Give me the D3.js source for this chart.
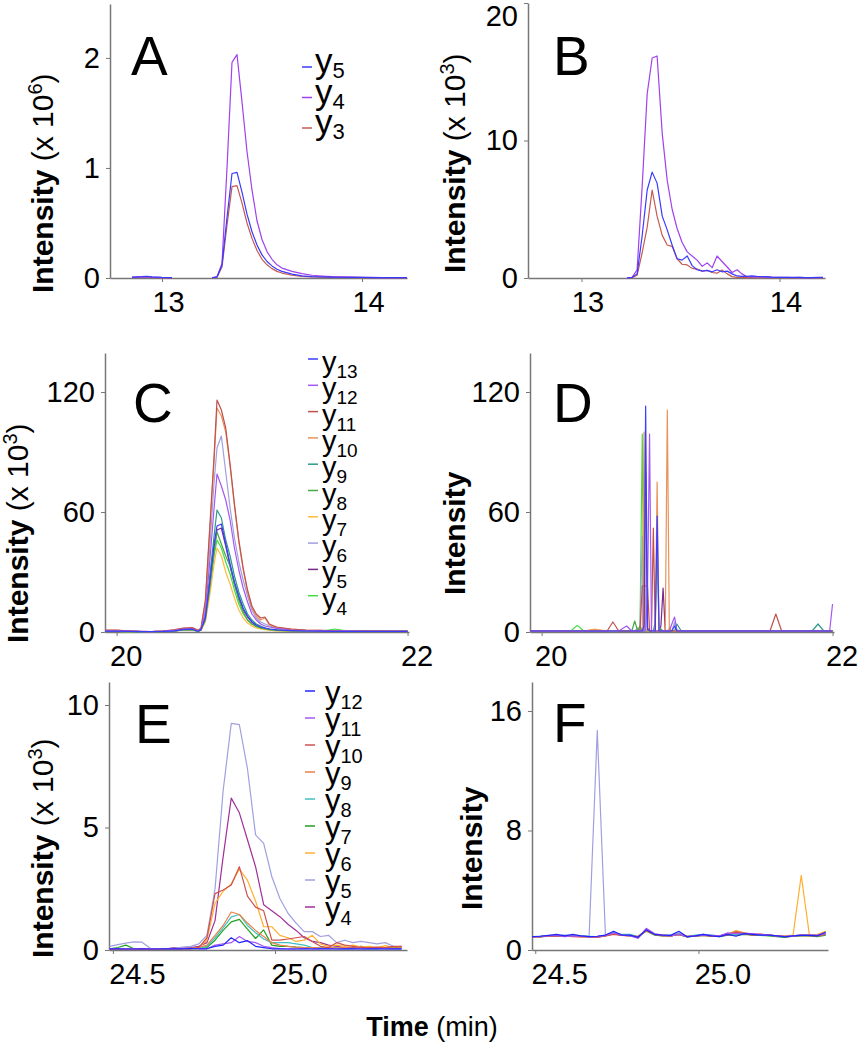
<!DOCTYPE html>
<html><head><meta charset="utf-8">
<script src="https://cdn.jsdelivr.net/npm/d3@7"></script>
<style>
body{margin:0;background:#fff}
svg{display:block}
text{font-family:"Liberation Sans",Arial,Helvetica,sans-serif;fill:#000}
</style>
</head><body>
<svg id="chart" width="860" height="1050"></svg>
<script>
// ---------- Panel A (time in min, intensity x 10^6) ----------
const tA = [12.85,12.9,12.925,12.95,13.0,13.05,13.1,13.15,13.2,13.25,13.275,13.3,13.325,13.35,13.375,13.4,13.425,13.45,13.475,13.5,13.525,13.55,13.575,13.6,13.65,13.7,13.75,13.8,13.85,13.9,13.95,14.0,14.05,14.1,14.15,14.2,14.225];
const aY5 = [0.008,0.012,0.015,0.01,0.005,0.004,null,null,null,0.002,0.01,0.12,0.55,0.95,0.96,0.78,0.58,0.42,0.3,0.21,0.15,0.11,0.08,0.06,0.035,0.02,0.013,0.01,0.008,0.007,0.006,0.005,0.004,0.004,0.003,0.003,0.003];
const aY4 = [0.005,0.01,0.012,0.008,0.004,0.003,null,null,null,0.002,0.01,0.13,1.0,1.96,2.03,1.6,1.15,0.8,0.52,0.35,0.24,0.17,0.12,0.09,0.06,0.04,0.025,0.018,0.012,0.01,0.008,0.006,0.005,0.004,0.004,0.003,0.003];
const aY3 = [0.004,0.008,0.01,0.006,0.003,0.002,null,null,null,0.001,0.008,0.1,0.48,0.83,0.84,0.68,0.5,0.36,0.25,0.17,0.12,0.085,0.06,0.045,0.025,0.015,0.01,0.008,0.006,0.005,0.005,0.004,0.003,0.003,0.003,0.002,0.002];

// ---------- Panel B (x 10^3) ----------
const tB = [13.23,13.256,13.281,13.306,13.332,13.357,13.382,13.408,13.433,13.458,13.483,13.508,13.534,13.559,13.584,13.61,13.635,13.66,13.685,13.71,13.736,13.761,13.786,13.81,13.835,13.86,13.885,13.91,13.935,13.96,13.985,14.01,14.04,14.07,14.1,14.13,14.16,14.19,14.22];
const bY5 = [0,0.05,0.3,3.0,6.4,7.7,6.9,4.5,3.5,2.4,1.4,1.3,1.6,0.9,0.6,0.5,0.55,0.45,0.6,0.45,0.5,0.3,0.15,0.12,0.12,0.15,0.12,0.1,0.08,0.06,0.05,0.05,0.04,0.05,0.04,0.03,0.03,0.04,0.05];
const bY4 = [0,0.05,0.6,6.5,13.4,16.0,16.15,10.5,7.1,5.0,3.6,2.6,1.9,1.6,1.3,0.85,1.1,0.75,1.6,1.2,0.8,0.4,0.6,0.3,0.1,0.08,0.1,0.08,0.1,0.06,0.05,0.05,0.04,0.03,0.04,0.03,0.03,0.02,0.02];
const bY3 = [0,0.03,0.2,1.8,3.7,6.4,4.5,3.1,2.4,2.3,1.4,1.0,0.95,0.7,0.65,0.5,0.55,0.4,0.35,0.58,0.3,0.1,0.05,0.04,0.03,0.03,0.02,0.02,0.02,0.02,0.02,0.02,0.02,0.02,0.02,0.02,0.02,0.02,0.02];

// ---------- Panel C (x 10^3) ----------
const tC = [19.92,20.0,20.08,20.16,20.24,20.32,20.40,20.46,20.52,20.56,20.58,20.61,20.64,20.67,20.69,20.72,20.75,20.78,20.81,20.84,20.87,20.90,20.93,20.96,20.99,21.02,21.05,21.10,21.20,21.30,21.40,21.50,21.60,21.70,21.80,21.90,22.0];
const cY13 = [0.4,0.4,0.3,0.2,0.2,0.3,0.6,1.3,1.4,0.4,1.2,7,25,44,53,54,44,34,25,18,12,8,5,3.5,2.5,2,1.5,1,0.7,0.5,0.4,0.3,0.3,0.3,0.3,0.3,0.3];
const cY12 = [0.5,0.5,0.4,0.3,0.2,0.4,0.8,1.4,1.5,0.5,1.4,10,35,62,79,73,66,56,42,31,22,15,9,6,4,3,2.5,1.8,1,0.7,0.5,0.4,0.4,0.3,0.3,0.3,0.3];
const cY11 = [1,1,0.6,0.3,0.2,0.5,1.2,2,2.2,0.8,2,16,52,88,116,111,102,84,64,46,32,21,13,9,7,7.5,4,2.5,1.5,1,0.8,0.6,0.5,0.5,0.4,0.4,0.5];
const cY10 = [0.8,0.8,0.5,0.3,0.2,0.5,1,1.8,2,0.7,2,15,50,86,112,108,100,83,63,45,31,20,12,8,6,7,3.5,2.2,1.4,1,0.8,0.6,0.5,0.5,0.4,0.4,0.4];
const cY9 = [0.4,0.4,0.3,0.2,0.2,0.3,0.6,1.2,1.3,0.4,1.2,8,28,48,61,57,46,38,28,20,14,9,6,4,3,2,1.5,1.2,0.8,0.6,0.5,0.4,0.3,0.6,0.3,0.3,0.3];
const cY8 = [0.3,0.3,0.2,0.2,0.2,0.3,0.5,1,1.1,0.3,1,6,22,40,50,44,38,33,24,16,10,6,4,3,2,1.5,1.2,0.8,0.5,0.4,0.3,0.3,0.3,0.3,0.3,0.3,0.3];
const cY7 = [0.3,0.3,0.2,0.2,0.2,0.3,0.5,0.9,1,0.3,0.9,5,18,34,42,38,30,24,17,11,7,4.5,3,2,1.5,1.2,0.9,0.6,0.5,0.4,0.3,0.3,0.3,0.3,0.3,0.3,0.3];
const cY6 = [0.5,0.5,0.4,0.3,0.2,0.4,0.8,1.5,1.6,0.5,1.5,12,42,75,92,98,80,62,47,35,26,18,11,7,5,4,3,2,1.2,0.8,0.6,0.5,0.4,0.4,0.3,0.3,0.3];
const cY5 = [0.3,0.3,0.3,0.2,0.2,0.3,0.5,1.1,1.2,0.3,1,7,24,42,51,52,43,33,24,17,11,7.5,5,3,2.2,1.8,1.3,0.9,0.6,0.4,0.3,0.3,0.3,0.3,0.3,0.3,0.3];
const cY4 = [0.3,0.3,0.2,0.2,0.2,0.3,0.5,1,1,0.3,1,6,21,38,46,42,35,29,21,14,9,6,4,2.5,1.8,1.4,1,0.7,0.5,0.4,0.3,1.5,0.3,0.3,0.6,0.3,0.3];

// ---------- Panel D (raw intensity) ----------
const tD = [19.92,20.2,20.245,20.29,20.364,20.45,20.49,20.53,20.584,20.62,20.64,20.66,20.676,20.692,20.704,20.715,20.728,20.742,20.755,20.768,20.781,20.794,20.807,20.82,20.835,20.85,20.864,20.878,20.895,20.914,20.93,20.96,21.2,21.57,21.61,21.65,21.86,21.9,21.94,21.98,22.0];
const dY13 = [0.5,0.5,0.5,0.5,0.5,0.5,0.5,0.5,0.5,0.5, 0.5,0.5,0.5,0.5,3,113,2,0.5,0.5,0.5, 0.5,58,0.5,0.5,0.5,0.5,0.5,0.5,0.5,3, 0.5,0.5,0.5,0.5,0.5,0.5,0.5,0.5,0.5,0.5, 0.5];
const dY12 = [0.5,0.5,0.5,0.5,0.5,0.5,0.5,0.5,3,0.5, 0.5,0.5,0.5,0.5,0.5,0.5,20,99,1,0.5, 0.5,0.5,0.5,0.5,0.5,0.5,0.5,0.5,4,7.5, 1,0.5,0.5,0.5,0.5,0.5,0.5,0.5,0.5,0.5, 14];
const dY11 = [0.5,0.5,0.5,0.5,0.5,0.5,5,0.5,0.5,0.5, 0.5,0.5,0.5,23,23,23,23,0.5,0.5,52, 0.5,0.5,0.5,0.5,0.5,0.5,0.5,0.5,0.5,0.5, 0.5,0.5,0.5,0.5,9,0.5,0.5,0.5,0.5,0.5, 0.5];
const dY10 = [0.5,0.5,0.5,0.5,1.2,0.5,0.5,0.5,0.5,0.5, 0.5,0.5,0.5,0.5,100,0.5,0.5,0.5,0.5,0.5, 0.5,75,0.5,0.5,0.5,0.5,111,0.5,0.5,0.5, 0.5,0.5,0.5,0.5,0.5,0.5,0.5,0.5,0.5,0.5, 0.5];
const dY9 = [0.5,0.5,0.5,0.5,0.5,0.5,0.5,0.5,0.5,0.5, 0.5,0.5,0.5,0.5,0.5,0.5,0.5,0.5,0.5,0.5, 5,45,1,0.5,0.5,0.5,0.5,0.5,0.5,0.5, 4,0.5,0.5,0.5,0.5,0.5,0.5,4,0.5,0.5, 0.5];
const dY8 = [0.5,0.5,0.5,0.5,0.5,0.5,0.5,0.5,0.5,0.5, 5.5,0.5,3,0.5,0.5,0.5,0.5,0.5,0.5,0.5, 0.5,0.5,0.5,1.5,0.5,0.5,0.5,0.5,0.5,0.5, 0.5,0.5,0.5,0.5,0.5,0.5,0.5,0.5,0.5,0.5, 0.5];
const dY7 = [0.5,0.5,0.5,0.5,1.5,0.5,0.5,0.5,0.5,0.5, 0.5,0.5,0.5,0.5,0.5,0.5,0.5,0.5,0.5,0.5, 0.5,0.5,0.5,0.5,0.5,0.5,0.5,2,0.5,0.5, 0.5,0.5,0.5,0.5,0.5,0.5,0.5,0.5,0.5,0.5, 0.5];
const dY6 = [0.5,0.5,0.5,0.5,0.5,0.5,0.5,0.5,0.5,0.5, 0.5,2,0.5,48,0.5,0.5,0.5,0.5,0.5,0.5, 0.5,0.5,0.5,0.5,0.5,0.5,0.5,0.5,0.5,5, 0.5,0.5,0.5,0.5,0.5,0.5,0.5,0.5,0.5,0.5, 0.5];
const dY5 = [0.5,0.5,0.5,0.5,0.5,0.5,0.5,0.5,0.5,0.5, 0.5,0.5,0.5,0.5,0.5,80,0.5,0.5,0.5,0.5, 0.5,0.5,0.5,3,22,0.5,0.5,0.5,0.5,0.5, 0.5,0.5,0.5,0.5,0.5,0.5,0.5,0.5,0.5,0.5, 0.5];
const dY4 = [0.5,0.5,3.3,0.5,0.5,0.5,0.5,0.5,0.5,0.5, 0.5,0.5,0.5,99,0.5,0.5,0.5,0.5,0.5,0.5, 0.5,0.5,0.5,0.5,0.5,0.5,0.5,0.5,0.5,0.5, 0.5,0.5,0.5,0.5,0.5,0.5,0.5,0.5,0.5,0.5, 0.5];

// ---------- Panel E (x 10^3) ----------
const tE = [24.49,24.515,24.54,24.565,24.59,24.615,24.64,24.665,24.69,24.715,24.74,24.765,24.79,24.815,24.84,24.865,24.89,24.915,24.94,24.965,24.99,25.015,25.04,25.065,25.09,25.115,25.14,25.165,25.19,25.215,25.24,25.265,25.29,25.315,25.34,25.365,25.39];
const eY12 = [0.05,0.05,0.04,0.04,0.05,0.04,0.04,0.05,0.05,0.05, 0.06,0.05,0.05,0.15,0.2,0.5,0.3,0.38,0.15,0.1, 0.05,0.05,0.04,0.04,0.05,0.04,0.05,0.05,0.04,0.05, 0.05,0.04,0.05,0.05,0.04,0.05,0.05];
const eY11 = [0.05,0.06,0.05,0.05,0.06,0.05,0.05,0.06,0.05,0.06, 0.06,0.06,0.05,0.2,0.25,0.3,0.55,0.35,0.3,0.15, 0.1,0.06,0.05,0.05,0.06,0.05,0.05,0.06,0.05,0.05, 0.06,0.05,0.05,0.06,0.05,0.05,0.05];
const eY10 = [0.03,0.03,0.03,0.03,0.02,0.02,0.03,0.04,0.05,0.05, 0.05,0.1,0.5,2.3,2.45,2.65,3.4,2.2,1.75,1.6, 0.4,0.4,0.45,0.5,0.55,0.35,0.15,0.1,0.3,0.2, 0.15,0.1,0.1,0.12,0.1,0.15,0.15];
const eY9 = [0.03,0.03,0.04,0.03,0.03,0.03,0.03,0.04,0.05,0.05, 0.06,0.1,0.2,0.6,1.0,1.55,1.45,1.1,0.8,0.55, 0.3,0.2,0.15,0.12,0.1,0.1,0.08,0.1,0.08,0.1, 0.08,0.1,0.08,0.08,0.1,0.08,0.1];
const eY8 = [0.04,0.04,0.05,0.04,0.04,0.04,0.04,0.05,0.05,0.05, 0.06,0.08,0.15,0.5,0.9,1.35,1.45,1.0,0.7,0.45, 0.3,0.3,0.3,0.25,0.2,0.1,0.08,0.08,0.06,0.06, 0.05,0.06,0.05,0.05,0.06,0.05,0.05];
const eY7 = [0.05,0.1,0.2,0.05,0.04,0.04,0.04,0.04,0.05,0.05, 0.05,0.06,0.1,0.4,0.8,1.15,1.25,0.85,0.47,0.82, 0.2,0.15,0.15,0.12,0.1,0.1,0.08,0.08,0.08,0.06, 0.06,0.08,0.06,0.06,0.1,0.08,0.1];
const eY6 = [0.04,0.04,0.05,0.04,0.04,0.04,0.04,0.05,0.05,0.06, 0.06,0.1,0.4,1.9,2.4,2.7,3.3,2.85,2.0,0.95, 0.95,0.6,0.5,0.35,0.4,0.6,0.25,0.15,0.2,0.15, 0.2,0.12,0.15,0.1,0.18,0.1,0.1];
const eY5 = [0.15,0.22,0.28,0.33,0.32,0.07,0.05,0.05,0.08,0.12, 0.15,0.25,0.6,2.5,6.5,9.25,9.2,7.4,4.7,4.35, 3.0,2.1,1.5,1.1,0.75,0.75,0.55,0.6,0.3,0.4, 0.3,0.35,0.3,0.25,0.3,0.15,0.1];
const eY4 = [0.02,0.03,0.04,0.03,0.03,0.03,0.04,0.05,0.1,0.08, 0.1,0.15,0.3,1.2,3.8,6.2,5.6,4.5,3.4,1.85, 1.6,1.36,1.05,0.8,0.5,0.35,0.3,0.2,0.15,0.1, 0.1,0.15,0.1,0.1,0.1,0.12,0.15];

// ---------- Panel F (raw intensity) ----------
const tF = [24.49,24.515,24.54,24.565,24.59,24.615,24.64,24.665,24.69,24.715,24.74,24.765,24.79,24.815,24.84,24.865,24.89,24.915,24.94,24.965,24.99,25.015,25.04,25.065,25.09,25.115,25.14,25.165,25.19,25.215,25.24,25.265,25.29,25.315,25.34,25.365,25.39];
const fY12 = [0.9,0.92,0.98,1.05,0.95,1.05,0.95,0.9,0.92,1.0, 1.25,1.0,1.0,0.85,1.35,1.05,1.0,0.98,1.25,0.88, 0.95,1.05,0.95,0.9,1.05,0.92,1.1,1.05,1.0,1.0, 0.95,0.88,0.95,0.98,0.98,0.95,1.2];
const fY11 = [0.88,0.9,0.95,0.98,0.9,0.95,0.92,0.88,0.9,0.98, 1.15,1.0,0.95,0.8,1.45,1.1,1.0,0.95,1.05,0.9, 0.95,1.0,0.98,0.95,1.15,1.1,1.12,1.1,1.05,1.0, 0.95,0.92,0.95,1.0,1.0,1.0,1.1];
const fY10 = [0.88,0.9,0.92,0.95,0.92,0.9,0.88,0.88,0.85,0.95, 1.05,0.98,0.95,0.9,1.3,1.05,0.95,0.95,1.05,0.9, 0.92,0.98,0.92,0.95,1.0,1.2,1.1,1.0,1.05,1.0, 0.95,0.9,0.92,0.98,0.95,0.95,1.05];
const fY9 = [0.9,0.9,0.92,0.95,0.95,0.92,0.9,0.9,0.88,0.95, 1.1,1.0,0.95,0.9,1.3,1.05,1.0,0.95,1.05,0.92, 0.95,1.0,0.95,0.95,1.05,1.25,1.15,1.05,1.05,1.0, 0.95,0.92,0.95,1.0,1.0,0.98,1.1];
const fY8 = [0.9,0.92,0.95,0.95,0.98,0.95,0.95,0.92,0.9,1.0, 1.15,1.05,1.05,0.9,1.3,1.05,1.0,1.0,1.1,0.92, 1.0,1.05,1.0,0.95,1.05,1.05,1.1,1.05,1.0,1.0, 0.95,0.9,0.95,1.0,1.0,0.95,1.05];
const fY7 = [0.88,0.88,0.92,0.92,0.95,0.92,0.92,0.9,0.88,0.95, 1.1,0.98,1.0,0.88,1.25,1.0,0.95,0.95,1.05,0.88, 0.92,0.98,0.92,0.9,1.0,1.0,1.05,1.0,0.98,0.95, 0.9,0.85,0.92,0.95,0.95,0.9,1.0];
const fY6 = [0.9,0.9,0.95,0.95,0.95,0.92,0.9,0.9,0.9,0.95, 1.1,1.0,0.95,0.9,1.3,1.05,1.0,0.95,1.05,0.9, 0.95,1.0,0.95,0.95,1.05,1.3,1.15,1.05,1.05,1.0, 0.95,0.95,1.0,5.0,1.0,1.05,1.25];
const fY5 = [0.9,0.92,0.95,0.98,1.0,0.95,0.95,0.9,14.7,1.0, 1.2,1.0,1.0,0.85,1.35,1.05,1.0,0.98,1.15,0.9, 0.95,1.05,0.95,0.95,1.05,1.05,1.1,1.05,1.05,1.0, 0.95,0.9,0.95,1.0,1.0,0.98,1.1];
const fY4 = [0.9,0.9,0.95,0.95,0.95,0.92,0.92,0.9,0.9,0.98, 1.15,1.0,1.0,0.8,1.4,1.05,1.0,0.95,1.05,0.9, 0.95,1.0,0.95,0.95,1.1,1.1,1.1,1.05,1.0,1.0, 0.95,0.9,0.95,1.0,1.0,1.0,1.15];

// ---------- Tick labels ----------
const ticksXAB = [13, 14];
const ticksXCD = [20, 22];
const ticksXEF = [24.5, 25.0];
const ticksYA = [0, 1, 2];
const ticksYB = [0, 10, 20];
const ticksYCD = [0, 60, 120];
const ticksYE = [0, 5, 10];
const ticksYF = [0, 8, 16];

// ---------- Series names / colours ----------
const colAB = {y5:"#3a3aff", y4:"#a040f0", y3:"#c45a50"};
const colCD = {y13:"#3c3cff", y12:"#a458f2", y11:"#c0504d", y10:"#e8935a", y9:"#2e9a8a", y8:"#4aa84a", y7:"#ffbb40", y6:"#a0a0e0", y5:"#7a2a8a", y4:"#44dd44"};
const colEF = {y12:"#2424ff", y11:"#a458f2", y10:"#d05050", y9:"#e8804a", y8:"#40c0c0", y7:"#22a022", y6:"#ffb030", y5:"#a0a0e0", y4:"#a0309a"};

const mk = (names, vals, cols) => names.map((n,i)=>({name:n, values:vals[i], color:cols[n]}));

const panels = [
  {letter:"A", t:tA, series: mk(["y5","y4","y3"],[aY5,aY4,aY3],colAB),
   xd:[12.74,14.225], xr:[110,407], yd:[0,2.49], yr:[278,4], xt:ticksXAB, yt:ticksYA, xf:d3.format("d"), xdx:6,
   lab:{x:53,y:293,exp:"6"}, let:{x:131,y:75},
   leg:{x1:302,x2:312,tx:315,y0:67,dy:30.5,base:6,fs:35,sfs:22,sdy:5}},
  {letter:"B", t:tB, series: mk(["y5","y4","y3"],[bY5,bY4,bY3],colAB),
   xd:[12.73,14.23], xr:[528,825], yd:[0,20], yr:[278,3], xt:ticksXAB, yt:ticksYB, xf:d3.format("d"), xdx:6, topShift:13,
   lab:{x:465,y:273,exp:"3"}, let:{x:553,y:75}},
  {letter:"C", t:tC, series: mk(["y13","y12","y11","y10","y9","y8","y7","y6","y5","y4"],[cY13,cY12,cY11,cY10,cY9,cY8,cY7,cY6,cY5,cY4],colCD),
   xd:[19.92,22.01], xr:[105,409], yd:[0,139.5], yr:[632,353], xt:ticksXCD, yt:ticksYCD, xf:d3.format("d"), xdx:9,
   lab:{x:28,y:643,exp:"3"}, let:{x:133,y:422},
   leg:{x1:308,x2:318,tx:322,y0:359,dy:26.3,base:13,fs:29,sfs:19,sdy:6}},
  {letter:"D", t:tD, series: mk(["y13","y12","y11","y10","y9","y8","y7","y6","y5","y4"],[dY13,dY12,dY11,dY10,dY9,dY8,dY7,dY6,dY5,dY4],colCD),
   xd:[19.92,22.01], xr:[530,834], yd:[0,139.5], yr:[632,353], xt:ticksXCD, yt:ticksYCD, xf:d3.format("d"), xdx:9,
   lab:{x:465,y:595,exp:null}, let:{x:553,y:422}},
  {letter:"E", t:tE, series: mk(["y12","y11","y10","y9","y8","y7","y6","y5","y4"],[eY12,eY11,eY10,eY9,eY8,eY7,eY6,eY5,eY4],colEF),
   xd:[24.488,25.407], xr:[109,407], yd:[0,10.94], yr:[950,682], xt:ticksXEF, yt:ticksYE, xf:d3.format(".1f"), xdx:24,
   lab:{x:53,y:958,exp:"3"}, let:{x:135,y:743},
   leg:{x1:305,x2:315,tx:325,y0:691,dy:27,base:12,fs:31,sfs:20,sdy:6}},
  {letter:"F", t:tF, series: mk(["y12","y11","y10","y9","y8","y7","y6","y5","y4"],[fY12,fY11,fY10,fY9,fY8,fY7,fY6,fY5,fY4],colEF),
   xd:[24.49,25.397], xr:[532,828], yd:[0,17.94], yr:[950,682], xt:ticksXEF, yt:ticksYF, xf:d3.format(".1f"), xdx:24,
   lab:{x:482,y:910,exp:null}, let:{x:553,y:742}}
];

const svg = d3.select("#chart");
const AX = "#777";

panels.forEach(p => {
  const x = d3.scaleLinear().domain(p.xd).range(p.xr);
  const y = d3.scaleLinear().domain(p.yd).range(p.yr);
  const g = svg.append("g");

  // axes
  const xa = g.append("g").attr("transform",`translate(0,${p.yr[0]})`)
    .call(d3.axisBottom(x).tickValues(p.xt).tickFormat(p.xf).tickSize(4).tickSizeOuter(0).tickPadding(9));
  const ya = g.append("g").attr("transform",`translate(${p.xr[0]},0)`)
    .call(d3.axisLeft(y).tickValues(p.yt).tickFormat(d3.format("d")).tickSize(4).tickSizeOuter(0).tickPadding(6));
  [xa, ya].forEach(a => {
    a.select(".domain").attr("stroke", AX).attr("stroke-width", 1.5);
    a.selectAll(".tick line").attr("stroke", AX).attr("stroke-width", 1);
    a.selectAll(".tick text").attr("font-size", 29).attr("fill", "#000")
      .style("font-family", '"Liberation Sans",Arial,sans-serif');
  });
  xa.selectAll(".tick text").attr("dx", p.xdx);
  if (p.topShift) {
    ya.selectAll(".tick text").filter(d => d === p.yd[1]).attr("y", p.topShift);
  }

  // lines (first legend entry on top)
  const lines = g.append("g");
  p.series.slice().reverse().forEach(s => {
    const line = d3.line()
      .defined((d,i) => s.values[i] !== null)
      .x((d,i) => x(p.t[i]))
      .y((d,i) => y(s.values[i]));
    lines.append("path").datum(p.t).attr("d", line)
      .attr("fill","none").attr("stroke", s.color).attr("stroke-width", 1.2)
      .attr("stroke-linejoin","round");
  });

  // y-axis title
  const tt = svg.append("text")
    .attr("transform",`translate(${p.lab.x},${p.lab.y}) rotate(-90)`)
    .attr("text-anchor","start").attr("font-size",30);
  tt.append("tspan").attr("font-weight","bold").text("Intensity");
  if (p.lab.exp) {
    tt.append("tspan").text(" (x 10");
    tt.append("tspan").attr("font-size",20).attr("dy",-11).text(p.lab.exp);
    tt.append("tspan").attr("dy",11).text(")");
  }

  // panel letter
  svg.append("text").attr("x",p.let.x).attr("y",p.let.y).attr("font-size",55).text(p.letter);

  // legend
  if (p.leg) {
    const L = p.leg;
    p.series.forEach((s,i) => {
      const ly = L.y0 + i*L.dy;
      svg.append("line").attr("x1",L.x1).attr("x2",L.x2).attr("y1",ly).attr("y2",ly)
        .attr("stroke",s.color).attr("stroke-width",1.5);
      const tx = svg.append("text").attr("x",L.tx).attr("y",ly+L.base).attr("font-size",L.fs);
      tx.append("tspan").text("y");
      tx.append("tspan").attr("font-size",L.sfs).attr("dy",L.sdy).text(s.name.slice(1));
    });
  }
});

// shared x-axis title
const xt = svg.append("text").attr("x",432).attr("y",1036).attr("text-anchor","middle").attr("font-size",27);
xt.append("tspan").attr("font-weight","bold").text("Time");
xt.append("tspan").text(" (min)");
</script>
</body></html>
